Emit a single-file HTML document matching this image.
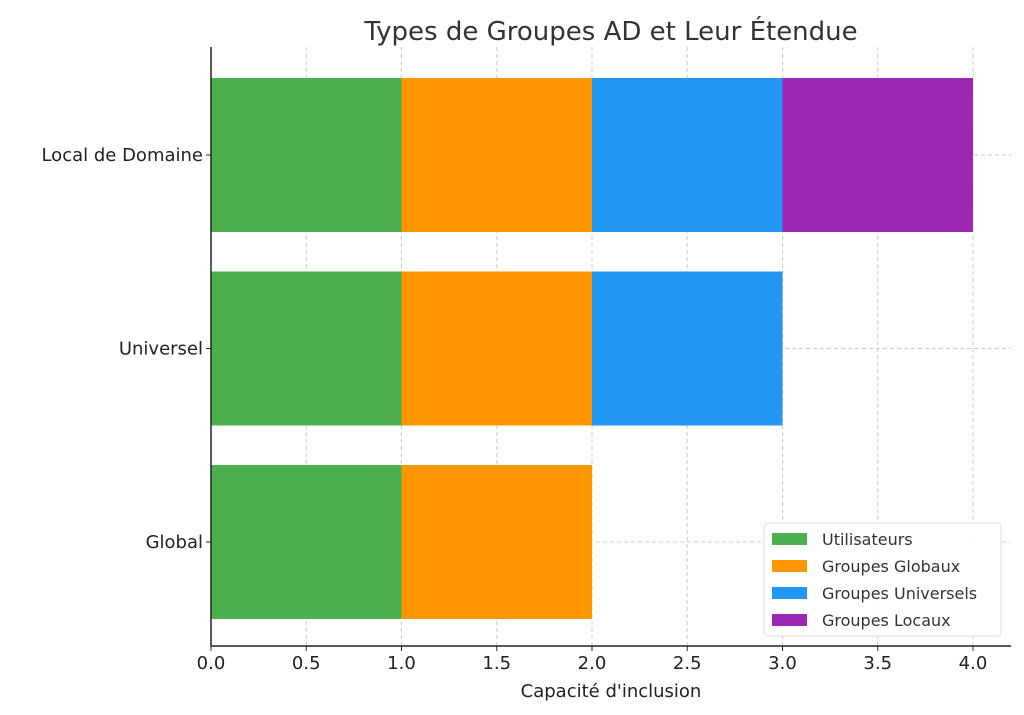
<!DOCTYPE html>
<html><head><meta charset="utf-8"><style>
body{margin:0;background:#fff;}
svg{display:block;font-family:"DejaVu Sans","Liberation Sans",sans-serif;}
</style></head><body>
<svg id="chart" width="1024" height="715" viewBox="0 0 1024 715">
<text x="611" y="40" text-anchor="middle" font-size="26" fill="#333">Types de Groupes AD et Leur Étendue</text>
<g id="grid"></g><g id="bars"></g><g id="axes"></g>
<text x="611" y="697" text-anchor="middle" font-size="18" fill="#222">Capacité d'inclusion</text>
<g id="legend"></g>
</svg>
<script>
const categories=["Global","Universel","Local de Domaine"];
const seriesNames=["Utilisateurs","Groupes Globaux","Groupes Universels","Groupes Locaux"];
const colors=["#4caf50","#ff9800","#2196f3","#9c27b0"];
const utilisateurs=[1,1,1];
const groupesGlobaux=[1,1,1];
const groupesUniversels=[0,1,1];
const groupesLocaux=[0,0,1];
const xTicks=[0,0.5,1,1.5,2,2.5,3,3.5,4];
const tickLabels=["0.0","0.5","1.0","1.5","2.0","2.5","3.0","3.5","4.0"];
const series=[utilisateurs,groupesGlobaux,groupesUniversels,groupesLocaux];
const NS="http://www.w3.org/2000/svg";
const L=211,R=1011,T=47,B=646;
const x=v=>L+v*190.5;
const y=i=>542-i*193.5;
const bh=154;
function mk(tag,attrs,parent){const e=document.createElementNS(NS,tag);for(const k in attrs)e.setAttribute(k,attrs[k]);parent.appendChild(e);return e;}
const grid=document.getElementById('grid'),bars=document.getElementById('bars'),axes=document.getElementById('axes'),leg=document.getElementById('legend');
xTicks.forEach((t,i)=>{
 const g=mk('line',{x1:x(t),x2:x(t),y1:T,y2:B,stroke:'#ccc','stroke-dasharray':'4,3','stroke-width':1},grid);
 
 
 const tk=mk('line',{x1:x(t),x2:x(t),y1:B,y2:B+5,stroke:'#222'},axes);
 
 
 const tl=mk('text',{x:x(t),y:B+23,'text-anchor':'middle','font-size':18,fill:'#222'},axes);
 tl.textContent=tickLabels[i];
 
 
});
categories.forEach((c,i)=>{
 const g=mk('line',{x1:L,x2:R,y1:y(i),y2:y(i),stroke:'#ccc','stroke-dasharray':'4,3'},grid);
 
 
 let acc=0;
 series.forEach((s,j)=>{
  if(s[i]>0){
   const r=mk('rect',{x:x(acc),y:y(i)-bh/2,width:x(acc+s[i])-x(acc),height:bh,fill:colors[j]},bars);
   
   
  }
  acc+=s[i];
 });
 const tk=mk('line',{x1:L-5,x2:L,y1:y(i),y2:y(i),stroke:'#222'},axes);
 
 
 const tl=mk('text',{x:L-8,y:y(i)+6,'text-anchor':'end','font-size':18,fill:'#222'},axes);
 tl.textContent=c;
 
 
});
const la=mk('line',{x1:L,x2:L,y1:T,y2:B,stroke:'#222','stroke-width':1.5},axes);


const ba=mk('line',{x1:L,x2:R,y1:B,y2:B,stroke:'#222','stroke-width':1.5},axes);


const box=mk('rect',{x:764,y:523,width:237,height:113,rx:4,fill:'#fff','fill-opacity':0.85,stroke:'#ddd'},leg);


seriesNames.forEach((n,j)=>{
 const sw=mk('rect',{x:772,y:533+j*27,width:35,height:12,fill:colors[j]},leg);
 
 
 const t=mk('text',{x:822,y:545+j*27,'font-size':16,fill:'#333'},leg);
 t.textContent=n;
 
 
});
</script>
</body></html>
